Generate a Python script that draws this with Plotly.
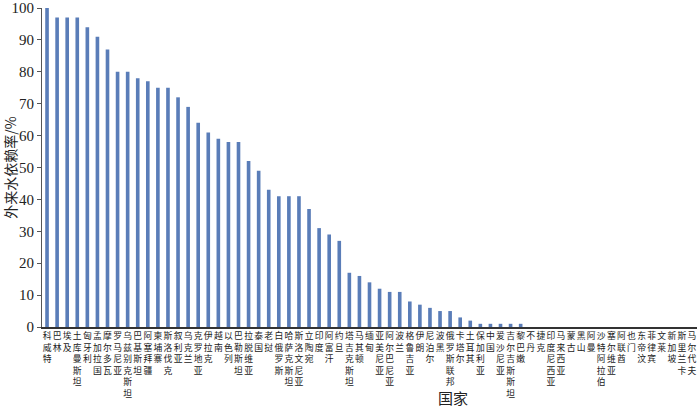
import plotly.graph_objects as go

countries = ["科威特","巴林","埃及","土库曼斯坦","匈牙利","孟加拉国","摩尔多瓦","罗马尼亚","乌兹别克斯坦","巴基斯坦",
             "阿塞拜疆","柬埔寨","斯洛伐克","叙利亚","乌克兰","克罗地亚","伊拉克","越南","以色列","巴勒斯坦",
             "拉脱维亚","泰国","老挝","白俄罗斯","哈萨克斯坦","斯洛文尼亚","立陶宛","印度","阿富汗","约旦",
             "塔吉克斯坦","马其顿","缅甸","亚美尼亚","阿尔巴尼亚","波兰","格鲁吉亚","伊朗","尼泊尔","波黑",
             "俄罗斯联邦","卡塔尔","土耳其","保加利亚","中国","爱沙尼亚","吉尔吉斯斯坦","黎巴嫩","不丹","捷克",
             "印度尼西亚","马来西亚","蒙古","黑山","阿曼","沙特阿拉伯","塞尔维亚","阿联酋","也门","东帝汶",
             "菲律宾","文莱","新加坡","斯里兰卡","马尔代夫"]
values = [100,97,97,97,94,91,87,80,80,78,
          77,75,75,72,69,64,61,59,58,58,
          52,49,43,41,41,41,37,31,29,27,
          17,16,14,12,11,11,8,7,6,5,
          5,3,2,1,1,1,1,1,0,0,
          0,0,0,0,0,0,0,0,0,0,
          0,0,0,0,0]
y_ticks = [0,10,20,30,40,50,60,70,80,90,100]

ticktext = ["<br>".join(list(c)) for c in countries]

fig = go.Figure(go.Bar(x=countries, y=values, marker=dict(color="#5a7db8", line=dict(width=0))))

fig.update_layout(
    width=700, height=408,
    margin=dict(l=42, r=3, t=8, b=81),
    plot_bgcolor="white", paper_bgcolor="white",
    bargap=0.64, showlegend=False,
    font=dict(family="Liberation Serif", color="#222"),
)
fig.update_xaxes(
    tickmode="array", tickvals=countries, ticktext=ticktext,
    tickangle=0, showline=True, linecolor="#333", linewidth=1.5,
    ticks="", showgrid=False, automargin=False,
    tickfont=dict(family="Noto Sans CJK SC", size=8.8, color="#222"),
)
fig.update_yaxes(
    range=[0, 100], tickvals=y_ticks, showline=True, linecolor="#555", linewidth=1,
    ticks="outside", ticklen=4, tickcolor="#555", showgrid=False, zeroline=False,
    automargin=False,
    tickfont=dict(family="Liberation Serif", size=15, color="#222"),
    title=dict(text="外来水依赖率/%", font=dict(family="Noto Sans CJK SC", size=14, color="#222"), standoff=5),
)
fig.add_annotation(text="国家", xref="paper", yref="paper", x=0.628, y=-0.222,
                   showarrow=False, xanchor="center", yanchor="middle",
                   font=dict(family="Noto Sans CJK SC", size=15, color="#222"))

fig.write_html("out.html", config={"displayModeBar": False},
               post_script="document.body.style.margin='0px';document.body.style.overflow='hidden';")
